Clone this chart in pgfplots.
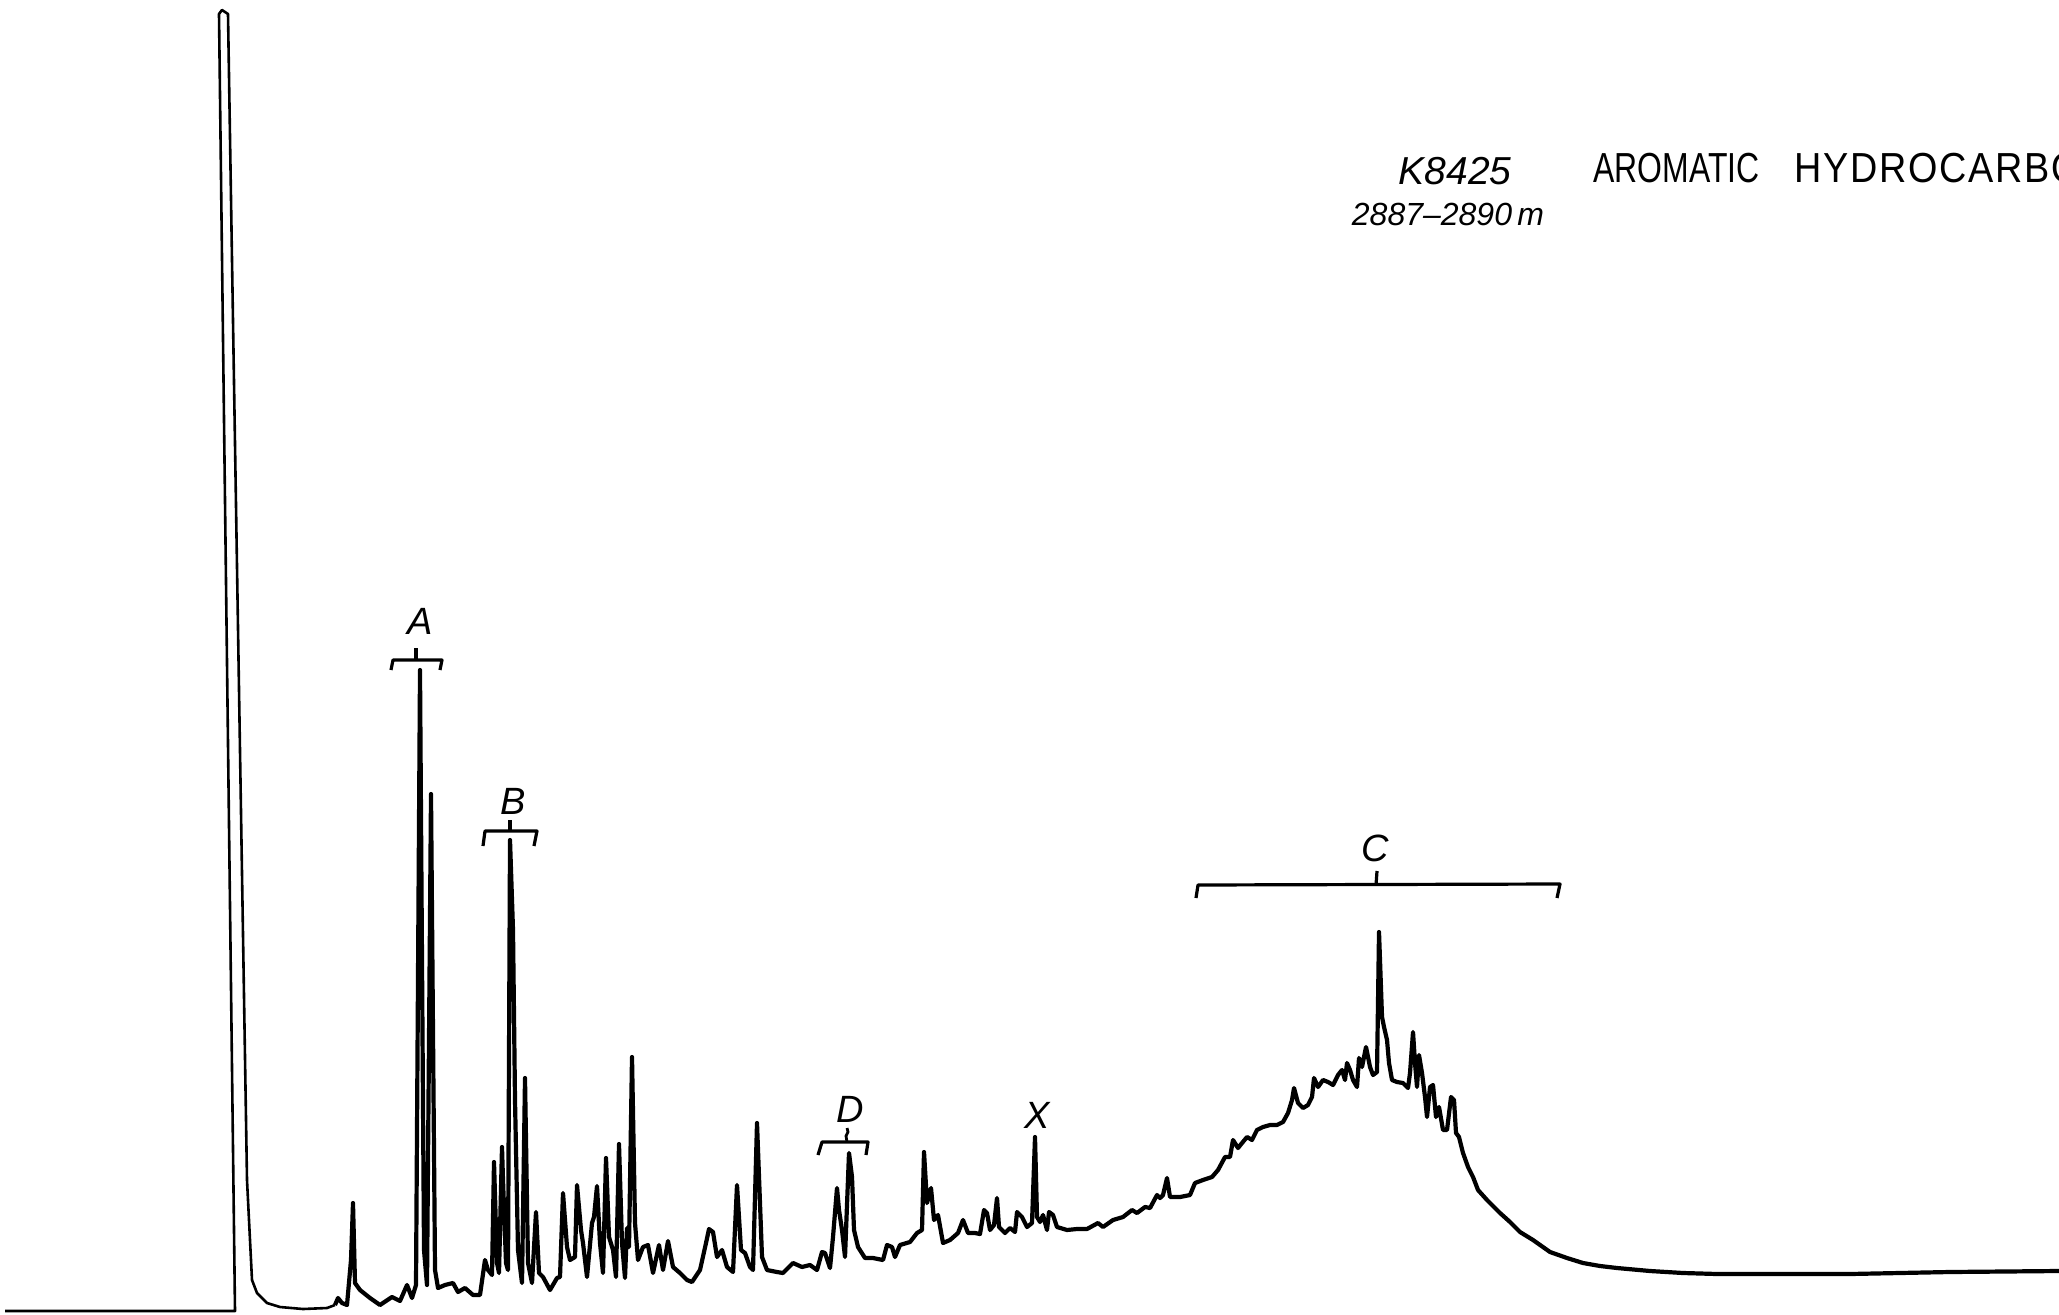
\documentclass[border=0pt]{standalone}
\usepackage{pgfplots}
\pgfplotsset{compat=1.18}
\usepackage{fontspec}
\setmainfont{Liberation Sans}
\newfontfamily\lettering[FakeStretch=0.76]{Liberation Sans}
\newfontfamily\letteringb[FakeStretch=0.90, LetterSpace=4]{Liberation Sans}
\begin{document}
\begin{tikzpicture}
\useasboundingbox (0,0) rectangle (1029.5pt,657.5pt);
\clip (0,0) rectangle (1029.5pt,657.5pt);
\begin{axis}[at={(0,0)}, anchor=south west, scale only axis,
  width=1029.5pt, height=657.5pt,
  xmin=0, xmax=2059, ymin=0, ymax=1315, y dir=reverse,
  axis lines=none, clip=false]
% solvent peak
\addplot[black, line width=1.3pt, line join=round, mark=none] coordinates {
(5,1311) (235,1311) (219,14) (222,10) (228,14) (247,1180) (252,1280) (257,1293)
(267,1303) (280,1307) (303,1309) (327,1308) (335,1305)
};
% rest of the trace
\addplot[black, line width=2.1pt, line join=round, mark=none] coordinates {
(335,1305) (338,1298) (342,1303) (347,1305) (351,1260) (353,1203) (355,1283) (360,1290)
(370,1298) (380,1305) (392,1297) (400,1301) (407,1285) (412,1298) (416,1285)
(420,670) (424,1250) (427,1285) (431,794) (435,1270) (438,1288) (445,1285) (453,1283)
(458,1292) (465,1288) (473,1295) (480,1295) (485,1260) (488,1270) (492,1275) (494,1162)
(497,1263) (499,1273) (502,1147) (503,1180) (506,1263) (508,1270) (510,840) (512,900)
(513,930) (515,1100) (518,1250) (522,1283) (525,1078) (528,1263) (532,1283) (536,1212)
(539,1273) (543,1277) (550,1290) (557,1278) (560,1277) (563,1193) (567,1247) (570,1260)
(575,1257) (577,1185) (581,1230) (583,1243) (587,1277) (592,1223) (594,1217) (597,1186)
(600,1243) (603,1273) (606,1158) (609,1237) (613,1250) (616,1277) (619,1144) (622,1243)
(625,1278) (627,1228) (629,1247) (632,1057) (635,1223) (638,1260) (643,1247) (648,1245)
(653,1273) (659,1245) (663,1270) (668,1241) (673,1267) (680,1273) (687,1280) (692,1282)
(700,1270) (706,1243) (709,1229) (713,1232) (717,1257) (722,1250) (727,1267) (733,1272)
(737,1185) (741,1250) (745,1253) (750,1267) (753,1270) (757,1123) (762,1257) (767,1270)
(777,1272) (783,1273) (793,1263) (802,1267) (810,1265) (817,1270) (822,1252) (825,1253)
(830,1268) (833,1237) (837,1188) (839,1210) (842,1230) (845,1257) (849,1153) (852,1177)
(854,1230) (858,1247) (865,1258) (873,1258) (883,1260) (887,1245) (892,1247) (895,1257)
(900,1245) (910,1242) (917,1233) (922,1230) (924,1152) (927,1203) (931,1188) (934,1220)
(938,1215) (943,1243) (950,1240) (958,1233) (963,1220) (968,1233) (975,1233) (980,1234)
(984,1210) (987,1213) (990,1230) (994,1225) (997,1198) (999,1227) (1005,1233) (1010,1228)
(1015,1232) (1017,1212) (1022,1217) (1027,1227) (1032,1223) (1035,1137) (1037,1217)
(1040,1222) (1043,1215) (1047,1230) (1049,1212) (1053,1215) (1057,1227) (1067,1230)
(1077,1229) (1087,1229) (1098,1223) (1103,1227) (1113,1220) (1123,1217) (1132,1210)
(1137,1213) (1145,1207) (1150,1208) (1157,1195) (1160,1198) (1163,1195) (1167,1178)
(1170,1197) (1180,1197) (1190,1195) (1195,1183) (1203,1180) (1212,1177) (1218,1170)
(1225,1157) (1230,1157) (1233,1140) (1238,1148) (1242,1143) (1247,1137) (1252,1140)
(1257,1130) (1263,1127) (1270,1125) (1277,1125) (1283,1122) (1288,1113) (1292,1100)
(1294,1088) (1298,1103) (1303,1108) (1308,1105) (1312,1097) (1314,1078) (1318,1087)
(1323,1080) (1328,1082) (1333,1085) (1338,1075) (1342,1070) (1345,1080) (1347,1063)
(1350,1070) (1353,1080) (1357,1087) (1359,1058) (1362,1067) (1366,1047) (1370,1067)
(1373,1075) (1377,1072) (1379,932) (1382,1017) (1384,1027) (1387,1040) (1389,1063)
(1392,1080) (1397,1082) (1403,1083) (1408,1088) (1410,1073) (1413,1032) (1415,1063)
(1417,1087) (1419,1055) (1422,1073) (1425,1097) (1427,1117) (1430,1087) (1433,1085)
(1436,1117) (1439,1107) (1443,1130) (1447,1130) (1451,1097) (1454,1100) (1456,1133)
(1459,1137) (1463,1153) (1468,1167) (1473,1177) (1478,1190) (1487,1200) (1500,1213)
(1510,1222) (1520,1232) (1533,1240) (1550,1252) (1567,1258) (1583,1263) (1600,1266)
(1617,1268) (1650,1271) (1683,1273) (1717,1274) (1750,1274) (1850,1274) (1950,1272)
(2059,1271)
};
% brackets
\draw[line width=1.6pt, line join=round] (axis cs:391,670) -- (axis cs:393,660) -- (axis cs:442,660) -- (axis cs:440,670);
\draw[line width=1.6pt] (axis cs:416,660) -- (axis cs:416,648);
\draw[line width=1.6pt, line join=round] (axis cs:483,846) -- (axis cs:485,831) -- (axis cs:537,831) -- (axis cs:534,846);
\draw[line width=1.6pt] (axis cs:510,831) -- (axis cs:510,820);
\draw[line width=1.6pt, line join=round] (axis cs:1196,898) -- (axis cs:1198,885) -- (axis cs:1560,884) -- (axis cs:1557,898);
\draw[line width=1.6pt] (axis cs:1376,885) -- (axis cs:1377,871);
\draw[line width=1.6pt, line join=round] (axis cs:818,1155) -- (axis cs:822,1142) -- (axis cs:868,1142) -- (axis cs:866,1155);
\draw[line width=1.4pt] (axis cs:847,1142) -- (axis cs:846,1136) -- (axis cs:848,1132) -- (axis cs:847,1128);
% labels
\node[anchor=base, inner sep=0pt, font=\fontsize{19}{19}\selectfont\itshape] at (axis cs:420,634) {A};
\node[anchor=base, inner sep=0pt, font=\fontsize{19}{19}\selectfont\itshape] at (axis cs:513,814) {B};
\node[anchor=base, inner sep=0pt, font=\fontsize{19}{19}\selectfont\itshape] at (axis cs:1375,861) {C};
\node[anchor=base, inner sep=0pt, font=\fontsize{19}{19}\selectfont\itshape] at (axis cs:850,1122) {D};
\node[anchor=base, inner sep=0pt, font=\fontsize{19}{19}\selectfont\itshape] at (axis cs:1037,1128) {X};
\node[anchor=base, inner sep=0pt, font=\fontsize{19.5}{19.5}\selectfont\itshape] at (axis cs:1455,185) {K8425};
\node[anchor=base, inner sep=0pt, font=\fontsize{16}{16}\selectfont\itshape] at (axis cs:1448,226) {2887--2890\,m};
\node[anchor=base west, inner sep=0pt, font=\lettering\fontsize{21}{21}\selectfont] at (axis cs:1593,183) {AROMATIC};
\node[anchor=base west, inner sep=0pt, font=\letteringb\fontsize{21}{21}\selectfont] at (axis cs:1794,183) {HYDROCARBONS};
\end{axis}
\end{tikzpicture}
\end{document}
